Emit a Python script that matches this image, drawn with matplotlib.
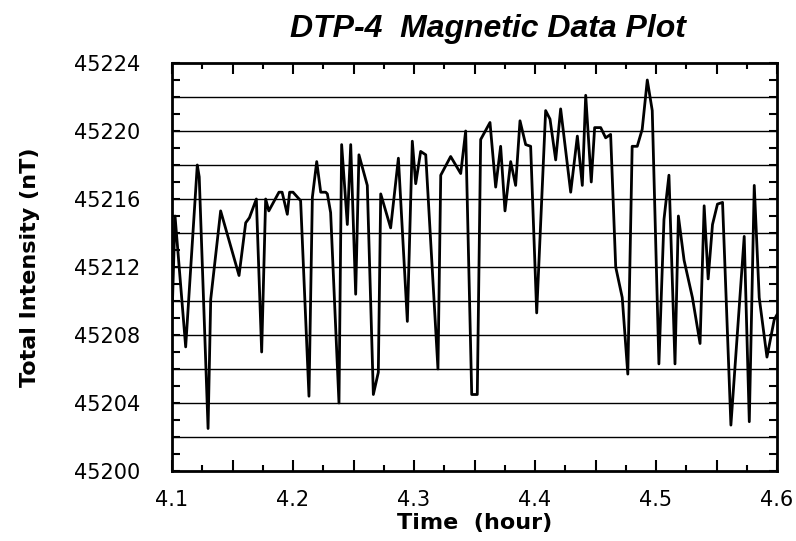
import matplotlib
matplotlib.use("Agg")
import matplotlib.pyplot as plt
from matplotlib.ticker import MultipleLocator, FuncFormatter

time_hour = [
    4.1000, 4.1025, 4.1113, 4.1209, 4.1225, 4.1298, 4.1320, 4.1402, 4.1554, 4.1609,
    4.1640, 4.1697, 4.1741, 4.1774, 4.1800, 4.1884, 4.1910, 4.1953, 4.1972, 4.2000,
    4.2063, 4.2132, 4.2160, 4.2196, 4.2229, 4.2270, 4.2284, 4.2311, 4.2380, 4.2402,
    4.2449, 4.2477, 4.2518, 4.2545, 4.2614, 4.2664, 4.2705, 4.2725, 4.2807, 4.2871,
    4.2945, 4.2986, 4.3014, 4.3055, 4.3097, 4.3198, 4.3221, 4.3303, 4.3386, 4.3427,
    4.3477, 4.3523, 4.3551, 4.3628, 4.3675, 4.3716, 4.3752, 4.3799, 4.3840, 4.3876,
    4.3923, 4.3964, 4.4014, 4.4088, 4.4124, 4.4171, 4.4212, 4.4295, 4.4350, 4.4391,
    4.4419, 4.4465, 4.4493, 4.4543, 4.4584, 4.4625, 4.4667, 4.4721, 4.4767, 4.4803,
    4.4845, 4.4886, 4.4928, 4.4969, 4.5024, 4.5066, 4.5107, 4.5157, 4.5185, 4.5232,
    4.5301, 4.5364, 4.5398, 4.5431, 4.5467, 4.5508, 4.5550, 4.5619, 4.5729, 4.5771,
    4.5812, 4.5853, 4.5917, 4.5977, 4.6000,
]
total_intensity = [
    45209.0, 45215.0, 45207.3, 45218.0, 45217.3, 45202.5, 45210.1, 45215.3, 45211.5, 45214.6,
    45214.9, 45216.0, 45207.0, 45216.0, 45215.3, 45216.4, 45216.4, 45215.1, 45216.4, 45216.4,
    45215.9, 45204.4, 45216.1, 45218.2, 45216.4, 45216.4, 45216.3, 45215.2, 45204.0, 45219.2,
    45214.5, 45219.2, 45210.4, 45218.6, 45216.8, 45204.5, 45205.8, 45216.3, 45214.3, 45218.4,
    45208.8, 45219.4, 45216.9, 45218.8, 45218.6, 45206.0, 45217.4, 45218.5, 45217.5, 45220.0,
    45204.5, 45204.5, 45219.5, 45220.5, 45216.7, 45219.1, 45215.3, 45218.2, 45216.8, 45220.6,
    45219.2, 45219.1, 45209.3, 45221.2, 45220.7, 45218.3, 45221.3, 45216.4, 45219.7, 45216.8,
    45222.1, 45217.0, 45220.2, 45220.2, 45219.6, 45219.8, 45212.0, 45210.2, 45205.7, 45219.1,
    45219.1, 45220.1, 45223.0, 45221.2, 45206.3, 45214.8, 45217.4, 45206.3, 45215.0, 45212.4,
    45210.2, 45207.5, 45215.6, 45211.3, 45214.5, 45215.7, 45215.8, 45202.7, 45213.8, 45202.9,
    45216.8, 45210.2, 45206.7, 45208.9, 45209.2,
]
grid_levels = [45202, 45204, 45206, 45208, 45210, 45212, 45214, 45216, 45218, 45220, 45222]

title_text = "DTP-4  Magnetic Data Plot"
xlabel_text = "Time  (hour)"
ylabel_text = "Total Intensity (nT)"

plt.rcParams['font.family'] = ['DejaVu Sans']

fig = plt.figure(figsize=(7.96, 5.41), dpi=100)
ax = fig.add_axes([172 / 796, 1 - 471 / 541, 605 / 796, 408 / 541])

for g in grid_levels:
    ax.axhline(g, color='black', lw=1.0, zorder=1)

ax.plot(time_hour, total_intensity, color='black', lw=2.0, zorder=3)

ax.set_xlim(4.1, 4.6)
ax.set_ylim(45200, 45224)

ax.xaxis.set_major_locator(MultipleLocator(0.05))
ax.xaxis.set_minor_locator(MultipleLocator(0.025))
ax.xaxis.set_major_formatter(FuncFormatter(
    lambda v, p: f"{v:.1f}" if abs(round(v * 10) - v * 10) < 1e-6 else ""))
ax.yaxis.set_major_locator(MultipleLocator(4))
ax.yaxis.set_minor_locator(MultipleLocator(1))
ax.yaxis.set_major_formatter(FuncFormatter(lambda v, p: f"{int(round(v))}"))

ax.tick_params(which='both', direction='in', top=True, right=True, width=1.5, color='black')
ax.tick_params(axis='x', which='major', length=8, labelsize=15, pad=14)
ax.tick_params(axis='x', which='minor', length=4)
ax.tick_params(axis='y', which='major', length=6, labelsize=15, pad=23)
ax.tick_params(axis='y', which='minor', length=6)

for s in ax.spines.values():
    s.set_linewidth(2.0)

ax.set_xlabel(xlabel_text, fontsize=16, fontweight='bold')
ax.xaxis.set_label_coords(0.5, -0.104)
ax.set_ylabel(ylabel_text, fontsize=16, fontweight='bold')
ax.yaxis.set_label_coords(-0.218, 0.5)

fig.text(488 / 796, 1 - 37 / 541, title_text, ha='center', va='baseline',
         fontsize=23, fontweight='bold', style='italic', family='Liberation Sans')

fig.savefig("out.png", dpi=100)
